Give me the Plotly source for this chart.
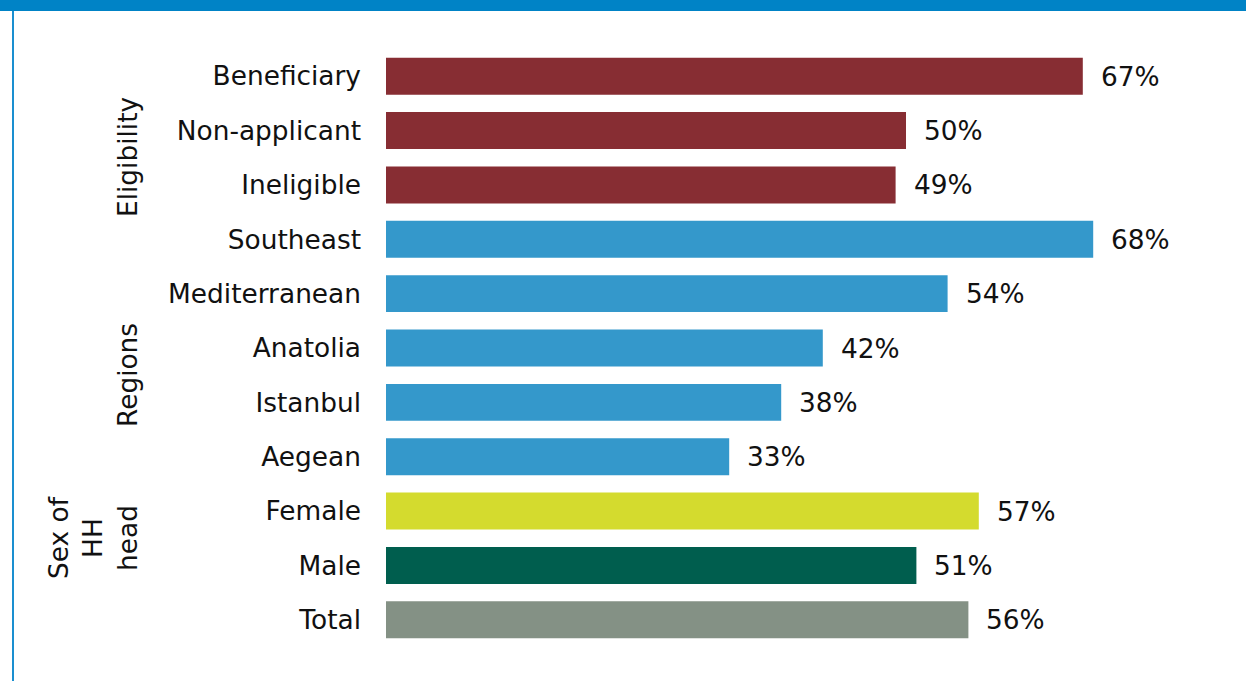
import plotly.graph_objects as go

# Share of households, by breakdown (top to bottom)
categories = ["Beneficiary", "Non-applicant", "Ineligible",
              "Southeast", "Mediterranean", "Anatolia", "Istanbul", "Aegean",
              "Female", "Male", "Total"]
values = [67, 50, 49, 68, 54, 42, 38, 33, 57, 51, 56]
colors = ["#872D33", "#872D33", "#872D33",
          "#3498CB", "#3498CB", "#3498CB", "#3498CB", "#3498CB",
          "#D4DB2E", "#005E4E", "#849185"]
group_labels = ["Eligibility", "Regions", "Sex of<br>HH<br>head"]

W, H = 1246, 681
ML, MR, MT, MB = 386, 28, 49, 34
PW, PH = W - ML - MR, H - MT - MB

def px(x):
    return (x - ML) / PW

def py(y):
    return (H - MB - y) / PH

FONT = "DejaVu Sans"
FS = 26.4
TXT = "#111111"

fig = go.Figure(go.Bar(
    x=values, y=categories, orientation="h",
    marker=dict(color=colors, line=dict(width=0)),
    width=0.68, hoverinfo="skip",
))

annotations = []
for c, v in zip(categories, values):
    annotations.append(dict(
        x=v, y=c, xref="x", yref="y", text=f"{v}%", showarrow=False,
        xanchor="left", xshift=16, font=dict(family=FONT, size=FS, color=TXT),
    ))

# group titles on the left
for text, yc, xc in [(group_labels[0], 157, 127),
                     (group_labels[1], 375, 127),
                     (group_labels[2], 538, 93)]:
    annotations.append(dict(
        x=px(xc), y=py(yc), xref="paper", yref="paper", text=text,
        showarrow=False, textangle=-90, xanchor="center", yanchor="middle",
        font=dict(family=FONT, size=FS, color=TXT), align="center",
    ))

shapes = [
    dict(type="rect", xref="paper", yref="paper",
         x0=px(0), x1=px(W), y0=py(11), y1=py(0),
         fillcolor="#0083C6", line=dict(width=0), layer="above"),
    dict(type="line", xref="paper", yref="paper",
         x0=px(13), x1=px(13), y0=py(11), y1=py(H),
         line=dict(color="#1A8FD0", width=2)),
]

fig.update_layout(
    width=W, height=H,
    margin=dict(l=ML, r=MR, t=MT, b=MB),
    paper_bgcolor="white", plot_bgcolor="white",
    showlegend=False,
    xaxis=dict(range=[0, PW / 10.4], visible=False, fixedrange=True),
    yaxis=dict(autorange="reversed", showgrid=False, zeroline=False,
               showline=False, ticks="", ticklabelstandoff=24,
               tickfont=dict(family=FONT, size=FS, color=TXT)),
    annotations=annotations, shapes=shapes,
    font=dict(family=FONT),
)

fig.write_html("out.html", config={"displayModeBar": False})
